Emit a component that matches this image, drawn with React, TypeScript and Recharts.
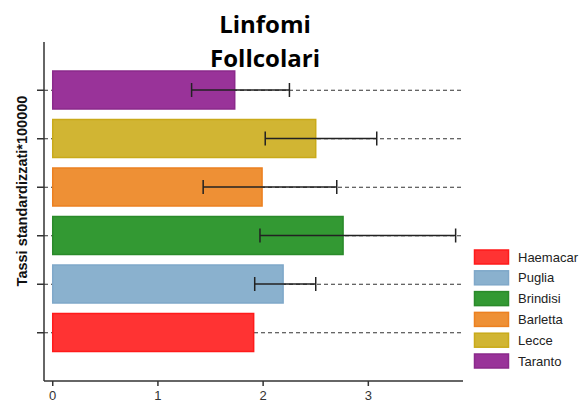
import React from 'react';
import { BarChart, Bar, XAxis, YAxis, CartesianGrid, ErrorBar, Cell } from 'recharts';

const categories = ['Haemacar', 'Puglia', 'Brindisi', 'Barletta', 'Lecce', 'Taranto'];
const rates = [1.91, 2.19, 2.76, 1.99, 2.5, 1.73];
const lower = [null, 1.92, 1.97, 1.43, 2.02, 1.32];
const upper = [null, 2.5, 3.83, 2.7, 3.08, 2.25];
const fills = ['#FF3333', '#8AB1CE', '#339933', '#EE9035', '#D1B533', '#993399'];
const strokes = ['#FF1A1A', '#7FA8C9', '#2A8A2A', '#EC8020', '#C9AA1A', '#8B2A8B'];
const xTicks = [0, 1, 2, 3];

const data = categories.map((name, i) => ({
  name,
  rate: rates[i],
  err: lower[i] == null ? undefined : [rates[i] - (lower[i] as number), (upper[i] as number) - rates[i]],
}));

const font = '"Liberation Sans", Arial, sans-serif';

// no labels on the category axis, only the tick marks
const EmptyTick = () => <g />;

const App: React.FC = () => {
  return (
    <div style={{ position: 'absolute', left: 0, top: 0, width: 583, height: 406, background: '#fff' }}>
      <BarChart
        width={583}
        height={406}
        data={data}
        layout="vertical"
        margin={{ top: 42, right: 120, bottom: 0, left: 0 }}
        barSize={38}
      >
        <CartesianGrid horizontal vertical={false} syncWithTicks stroke="#333" strokeDasharray="4 3" />
        <XAxis
          type="number"
          domain={[-0.083, 3.9]}
          ticks={xTicks}
          allowDataOverflow
          height={25}
          tickSize={5}
          tickMargin={5}
          stroke="#333"
          strokeWidth={1.5}
          tick={{ fill: '#333', fontSize: 13, fontFamily: font }}
        />
        <YAxis
          type="category"
          dataKey="name"
          reversed
          width={44}
          padding={{ top: 24, bottom: 24 }}
          tick={EmptyTick}
          tickSize={7}
          stroke="#333"
          strokeWidth={1.5}
        />
        <Bar dataKey="rate" isAnimationActive={false} strokeWidth={1.5}>
          {data.map((entry, i) => (
            <Cell key={`cell-${i}`} fill={fills[i]} stroke={strokes[i]} />
          ))}
          <ErrorBar dataKey="err" direction="x" width={7} stroke="#222" strokeWidth={1.5} />
        </Bar>
      </BarChart>

      <svg width={583} height={406} style={{ position: 'absolute', left: 0, top: 0, pointerEvents: 'none' }}>
        <text x={265} y={33} textAnchor="middle" fontFamily='"Open Sans", sans-serif' fontWeight="bold" fontSize={24} fill="#000">
          Linfomi
        </text>
        <text x={265} y={67} textAnchor="middle" fontFamily='"Open Sans", sans-serif' fontWeight="bold" fontSize={24} fill="#000">
          Follcolari
        </text>
        <text
          x={22}
          y={191}
          transform="rotate(-90, 22, 191)"
          textAnchor="middle"
          dominantBaseline="central"
          fontFamily={font}
          fontWeight="bold"
          fontSize={14.5}
          fill="#111"
        >
          Tassi standardizzati*100000
        </text>
        {categories.map((name, i) => {
          const cy = 257 + i * 20.8;
          return (
            <g key={name}>
              <rect x={474.5} y={cy - 7} width={34} height={14} fill={fills[i]} stroke={strokes[i]} strokeWidth={1.5} />
              <text x={518} y={cy} dominantBaseline="central" fontFamily={font} fontSize={13} fill="#222">
                {name}
              </text>
            </g>
          );
        })}
      </svg>
    </div>
  );
};

export default App;
